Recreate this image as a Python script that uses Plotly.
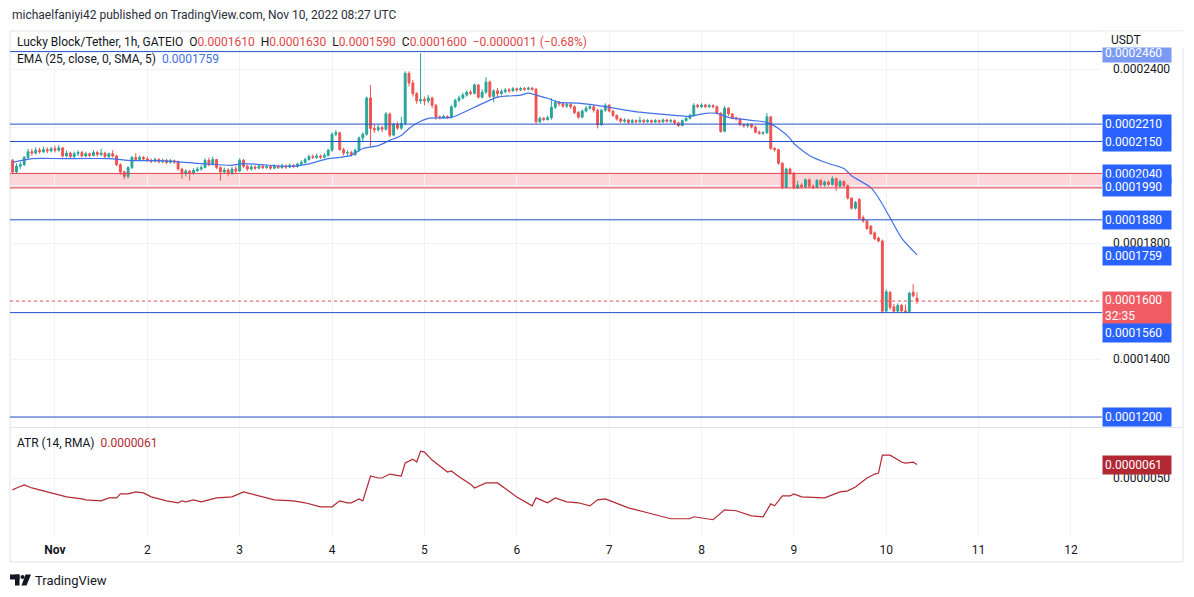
import plotly.graph_objects as go
import pandas as pd

# ---------------- DATA (prices in units of 1e-7 USDT) ----------------
# hourly candles, first candle = 2022-10-31 13:00
opens = [
    # Oct 31
    2085, 2045, 2065, 2070, 2095, 2115, 2110, 2120, 2115, 2122, 2118,
    # Nov 1
    2125, 2120, 2128, 2100, 2110, 2098, 2108, 2112, 2100, 2108, 2102, 2112, 2105, 2110, 2098, 2108, 2100, 2070, 2045, 2030, 2060, 2095, 2088, 2095,
    # Nov 2
    2090, 2085, 2082, 2088, 2080, 2085, 2078, 2084, 2080, 2055, 2040, 2048, 2042, 2050, 2055, 2060, 2085, 2070, 2088, 2060, 2045, 2052, 2040, 2055,
    # Nov 3
    2048, 2085, 2065, 2055, 2062, 2058, 2065, 2060, 2064, 2058, 2065, 2060, 2066, 2062, 2068, 2064, 2072, 2078, 2088, 2098, 2095, 2100, 2096, 2102,
    # Nov 4
    2120, 2175, 2180, 2122, 2110, 2112, 2105, 2120, 2162, 2175, 2300, 2195, 2190, 2198, 2192, 2245, 2172, 2210, 2196, 2212, 2385, 2352, 2315, 2290,
    # Nov 5
    2295, 2290, 2300, 2275, 2235, 2232, 2236, 2234, 2270, 2292, 2300, 2310, 2320, 2316, 2345, 2303, 2320, 2355, 2305, 2325, 2315, 2322, 2328, 2325,
    # Nov 6
    2332, 2328, 2333, 2330, 2334, 2330, 2218, 2230, 2226, 2232, 2268, 2285, 2280, 2272, 2278, 2270, 2250, 2234, 2255, 2265, 2270, 2258, 2208, 2258,
    # Nov 7
    2275, 2255, 2240, 2228, 2220, 2224, 2216, 2222, 2218, 2223, 2218, 2222, 2217, 2222, 2218, 2224, 2220, 2222, 2214, 2205, 2222, 2230, 2240, 2275,
    # Nov 8
    2270, 2276, 2270, 2274, 2270, 2248, 2185, 2265, 2245, 2232, 2228, 2208, 2204, 2208, 2200, 2182, 2178, 2180, 2235, 2126, 2122, 2075, 1992, 2055,
    # Nov 9
    2040, 1990, 2000, 1994, 2018, 1996, 1992, 2016, 2000, 2010, 2002, 2022, 1996, 2012, 1998, 1955, 1920, 1950, 1888, 1876, 1858, 1835, 1817, 1807,
    # Nov 10
    1565, 1630, 1580, 1565, 1585, 1566, 1564, 1630, 1610,
]
highs = [
    2090, 2075, 2080, 2100, 2125, 2125, 2130, 2128, 2132, 2130, 2132,
    2135, 2138, 2130, 2118, 2115, 2115, 2120, 2118, 2115, 2112, 2120, 2118, 2125, 2115, 2112, 2120, 2105, 2075, 2050, 2065, 2100, 2110, 2102, 2100,
    2098, 2092, 2095, 2093, 2092, 2090, 2090, 2088, 2085, 2060, 2055, 2052, 2058, 2062, 2068, 2092, 2095, 2098, 2090, 2065, 2060, 2058, 2062, 2065,
    2092, 2090, 2070, 2070, 2068, 2072, 2070, 2070, 2068, 2072, 2070, 2074, 2070, 2075, 2072, 2078, 2085, 2094, 2105, 2105, 2108, 2105, 2110, 2125,
    2182, 2190, 2184, 2128, 2120, 2118, 2126, 2168, 2182, 2305, 2345, 2210, 2208, 2205, 2252, 2250, 2215, 2218, 2235, 2392, 2392, 2362, 2320, 2455,
    2305, 2310, 2305, 2280, 2240, 2242, 2240, 2275, 2298, 2308, 2318, 2326, 2328, 2350, 2348, 2330, 2372, 2360, 2330, 2335, 2330, 2334, 2335, 2338,
    2336, 2338, 2338, 2340, 2338, 2335, 2236, 2234, 2238, 2300, 2292, 2290, 2286, 2284, 2282, 2275, 2255, 2260, 2272, 2276, 2275, 2262, 2262, 2282,
    2280, 2258, 2244, 2232, 2230, 2228, 2228, 2226, 2236, 2228, 2228, 2226, 2228, 2226, 2230, 2228, 2228, 2226, 2218, 2226, 2236, 2246, 2282, 2280,
    2282, 2280, 2280, 2278, 2274, 2250, 2272, 2268, 2248, 2236, 2232, 2212, 2214, 2212, 2205, 2188, 2186, 2248, 2238, 2130, 2125, 2078, 2060, 2060,
    2045, 2015, 2006, 2022, 2022, 2002, 2020, 2020, 2016, 2016, 2030, 2025, 2018, 2016, 2002, 1958, 1945, 1955, 1895, 1880, 1862, 1840, 1822, 1812,
    1640, 1635, 1590, 1592, 1590, 1588, 1632, 1658, 1630,
]
lows = [
    2040, 2040, 2055, 2065, 2090, 2100, 2105, 2108, 2110, 2110, 2112,
    2112, 2115, 2095, 2095, 2092, 2092, 2100, 2095, 2095, 2095, 2098, 2098, 2100, 2090, 2092, 2095, 2065, 2035, 2020, 2022, 2055, 2082, 2082, 2084,
    2080, 2075, 2078, 2075, 2076, 2072, 2074, 2072, 2050, 2022, 2030, 2015, 2035, 2045, 2050, 2058, 2065, 2068, 2055, 2015, 2038, 2030, 2035, 2040,
    2045, 2058, 2048, 2050, 2052, 2055, 2054, 2056, 2052, 2054, 2055, 2056, 2056, 2058, 2058, 2060, 2068, 2074, 2084, 2090, 2090, 2090, 2092, 2098,
    2115, 2168, 2118, 2102, 2100, 2098, 2100, 2115, 2150, 2170, 2130, 2180, 2185, 2182, 2188, 2165, 2168, 2190, 2190, 2205, 2340, 2305, 2280, 2280,
    2275, 2282, 2265, 2225, 2226, 2228, 2228, 2230, 2265, 2285, 2295, 2305, 2310, 2312, 2298, 2298, 2315, 2300, 2285, 2300, 2308, 2316, 2318, 2320,
    2322, 2324, 2325, 2326, 2325, 2212, 2214, 2220, 2222, 2225, 2262, 2272, 2266, 2265, 2262, 2245, 2228, 2230, 2250, 2260, 2250, 2195, 2204, 2252,
    2250, 2235, 2222, 2214, 2214, 2210, 2212, 2212, 2214, 2212, 2214, 2212, 2214, 2212, 2214, 2215, 2214, 2208, 2200, 2202, 2218, 2226, 2236, 2264,
    2265, 2265, 2266, 2264, 2244, 2180, 2182, 2238, 2226, 2222, 2204, 2198, 2198, 2195, 2178, 2174, 2172, 2176, 2122, 2115, 2070, 1985, 1988, 2035,
    1986, 1986, 1988, 1990, 1990, 1986, 1990, 1994, 1994, 1996, 1998, 1980, 1992, 1992, 1950, 1915, 1915, 1880, 1870, 1845, 1828, 1810, 1803, 1557,
    1560, 1570, 1558, 1558, 1560, 1558, 1558, 1612, 1590,
]
closes = [
    2045, 2065, 2070, 2095, 2115, 2110, 2120, 2115, 2122, 2118, 2125,
    2120, 2128, 2100, 2110, 2098, 2108, 2112, 2100, 2108, 2102, 2112, 2105, 2110, 2098, 2108, 2100, 2070, 2045, 2030, 2060, 2095, 2088, 2095, 2090,
    2085, 2082, 2088, 2080, 2085, 2078, 2084, 2080, 2055, 2040, 2048, 2042, 2050, 2055, 2060, 2085, 2070, 2088, 2060, 2045, 2052, 2040, 2055, 2048,
    2085, 2065, 2055, 2062, 2058, 2065, 2060, 2064, 2058, 2065, 2060, 2066, 2062, 2068, 2064, 2072, 2078, 2088, 2098, 2095, 2100, 2096, 2102, 2120,
    2175, 2180, 2122, 2110, 2112, 2105, 2120, 2162, 2175, 2300, 2195, 2190, 2198, 2192, 2245, 2172, 2210, 2196, 2212, 2385, 2352, 2315, 2290, 2295,
    2290, 2300, 2275, 2235, 2232, 2236, 2234, 2270, 2292, 2300, 2310, 2320, 2316, 2345, 2303, 2320, 2355, 2305, 2325, 2315, 2322, 2328, 2325, 2332,
    2328, 2333, 2330, 2334, 2330, 2218, 2230, 2226, 2232, 2268, 2285, 2280, 2272, 2278, 2270, 2250, 2234, 2255, 2265, 2270, 2258, 2208, 2258, 2275,
    2255, 2240, 2228, 2220, 2224, 2216, 2222, 2218, 2223, 2218, 2222, 2217, 2222, 2218, 2224, 2220, 2222, 2214, 2205, 2222, 2230, 2240, 2275, 2270,
    2276, 2270, 2274, 2270, 2248, 2185, 2265, 2245, 2232, 2228, 2208, 2204, 2208, 2200, 2182, 2178, 2180, 2235, 2126, 2122, 2075, 1992, 2055, 2040,
    1990, 2000, 1994, 2018, 1996, 1992, 2016, 2000, 2010, 2002, 2022, 1996, 2012, 1998, 1955, 1920, 1940, 1885, 1876, 1850, 1832, 1815, 1807, 1565,
    1632, 1578, 1565, 1585, 1566, 1564, 1627, 1618, 1600,
]

# EMA(25, SMA 5): hours since first candle -> value (1e-7)
ema_hours = [0, 5, 13, 25, 31, 38, 49, 57, 60, 72, 76, 82, 85, 88, 91, 95, 98, 101, 103, 105,
             108, 114, 120, 126, 132, 134, 136, 139, 142, 147, 153, 163, 172, 176, 180, 183, 186,
             192, 196, 199, 202, 203, 207, 212, 216, 218, 223, 225, 228, 231, 235]
ema_vals = [2078, 2091, 2091, 2091, 2084, 2084, 2074, 2068, 2074, 2064, 2070, 2091, 2095, 2102, 2126,
            2136, 2154, 2171, 2195, 2213, 2230, 2233, 2268, 2303, 2310, 2317, 2310, 2299, 2285, 2282,
            2272, 2251, 2240, 2237, 2247, 2247, 2233, 2223, 2216, 2195, 2161, 2143, 2102, 2074, 2057,
            2032, 1991, 1956, 1887, 1817, 1759]

# ATR(14, RMA): hours since first candle -> value (1e-7)
atr_hours = [0, 1, 3, 5, 10, 14, 18, 19, 23, 25, 27, 28, 30, 32, 34, 36, 40, 43, 44, 45, 47, 49, 53,
             57, 60, 62, 68, 73, 76, 80, 83, 85, 87, 88, 90, 91, 93, 95, 96, 98, 101, 102, 104, 105,
             106, 107, 109, 113, 114, 116, 119, 120, 123, 126, 131, 135, 136, 139, 141, 144, 147, 150,
             152, 154, 160, 165, 171, 176, 177, 182, 185, 188, 192, 195, 197, 198, 200, 202, 203, 205,
             211, 215, 217, 219, 222, 224, 225, 226, 228, 231, 232, 234, 235]
atr_vals = [40.3, 41.9, 44.3, 41.9, 37.9, 34.6, 33.0, 32.2, 31.4, 33.8, 33.8, 37.0, 37.0, 38.7, 37.9,
            34.6, 31.4, 29.8, 31.4, 30.6, 32.2, 30.6, 33.8, 34.6, 38.7, 37.0, 32.2, 31.4, 29.8, 26.5,
            26.5, 31.4, 29.8, 29.8, 33.0, 31.4, 51.6, 50.0, 50.0, 53.2, 51.6, 62.2, 65.4, 63.0, 71.9,
            71.1, 64.6, 54.9, 55.7, 51.0, 45.0, 41.9, 46.0, 46.0, 34.6, 27.3, 33.8, 29.8, 33.8, 30.6,
            29.8, 27.3, 32.2, 33.0, 25.7, 21.7, 16.8, 16.8, 18.4, 16.0, 24.1, 23.3, 19.2, 18.4, 28.9,
            27.3, 35.4, 35.4, 37.0, 34.6, 33.8, 38.7, 39.5, 42.7, 50.0, 53.2, 54.0, 68.6, 68.6, 63.0,
            62.2, 63.0, 61.0]

# horizontal levels drawn on the chart (1e-7)
blue_levels = [2460, 2210, 2150, 1880, 1560, 1200]
zone_low, zone_high = 1990, 2040
last_price = 1600
ema_last = 1759
atr_last = 61
day_labels = ["Nov", "2", "3", "4", "5", "6", "7", "8", "9", "10", "11", "12"]
price_grid = [1200, 1400, 1600, 1800, 2000, 2200, 2400]
price_ticks = [1400, 1800, 2400]          # labels not hidden behind level boxes
atr_ticks = [50]

SCALE = 1e-7
start = pd.Timestamp("2022-10-31 13:00")
times = pd.date_range(start, periods=len(closes), freq="h")
ema_t = [start + pd.Timedelta(hours=h) for h in ema_hours]
atr_t = [start + pd.Timedelta(hours=h) for h in atr_hours]
day_t = pd.date_range("2022-11-01", periods=len(day_labels), freq="D")

s = lambda arr: [v * SCALE for v in arr]

# ---------------- LAYOUT GEOMETRY (pixels) ----------------
W, H = 1194, 597
PL, PR, PT, PB = 10, 1100, 32, 537


def fx(px):
    return (px - PL) / (PR - PL)


def fy(py):
    return (PB - py) / (PB - PT)


FONT = "Roboto, 'Noto Sans', sans-serif"
TXT = "#131722"
GREEN, RED = "#26a69a", "#ef5350"
LINE_BLUE = "#2250c8"
BOX_BLUE = "#2962ff"
EMA_BLUE = "#4170e8"
ATR_RED = "#b22833"

fig = go.Figure()

fig.add_trace(go.Candlestick(
    x=times, open=s(opens), high=s(highs), low=s(lows), close=s(closes),
    increasing=dict(line=dict(color=GREEN, width=1), fillcolor=GREEN),
    decreasing=dict(line=dict(color=RED, width=1), fillcolor=RED),
    whiskerwidth=0, showlegend=False, hoverinfo="skip",
    xaxis="x", yaxis="y",
))
fig.add_trace(go.Scatter(
    x=ema_t, y=s(ema_vals), mode="lines",
    line=dict(color=EMA_BLUE, width=1.2, shape="spline", smoothing=0.6),
    showlegend=False, hoverinfo="skip", xaxis="x", yaxis="y",
))
fig.add_trace(go.Scatter(
    x=atr_t, y=s(atr_vals), mode="lines",
    line=dict(color=ATR_RED, width=1.2),
    showlegend=False, hoverinfo="skip", xaxis="x2", yaxis="y2",
))

x_range = [pd.Timestamp("2022-10-31 12:19"), pd.Timestamp("2022-11-12 07:33")]
price_top = 2400 + (69 - PT) * 3.448
price_bot = 2400 - (427 - 69) * 3.448
atr_top = 50 + (478 - 429) * 0.815
atr_bot = 50 - (PB - 478) * 0.815

grid = "#f0f3fa"
fig.update_layout(
    width=W, height=H,
    margin=dict(l=PL, r=W - PR, t=PT, b=H - PB),
    paper_bgcolor="white", plot_bgcolor="white",
    font=dict(family=FONT, size=12, color=TXT),
    showlegend=False,
    xaxis=dict(domain=[0, 1], anchor="y", range=x_range, tickvals=day_t, showticklabels=False,
               showgrid=True, gridcolor=grid, zeroline=False, showline=False,
               rangeslider=dict(visible=False)),
    xaxis2=dict(domain=[0, 1], anchor="y2", matches="x", range=x_range, tickvals=day_t,
                ticktext=["<b>Nov</b>"] + day_labels[1:], showgrid=True, gridcolor=grid,
                zeroline=False, showline=False, ticks="", ticklabelstandoff=4,
                tickfont=dict(size=12, color=TXT), rangeslider=dict(visible=False)),
    yaxis=dict(domain=[fy(427), 1], anchor="x", side="right",
               range=[price_bot * SCALE, price_top * SCALE],
               tickvals=s(price_ticks), tickformat=".7f", showgrid=True, gridcolor=grid,
               minor=dict(tickvals=s(price_grid), showgrid=True, gridcolor=grid, ticks=""),
               zeroline=False, showline=False, ticks="", ticklabelstandoff=12,
               tickfont=dict(size=12, color=TXT)),
    yaxis2=dict(domain=[0, fy(429)], anchor="x2", side="right",
                range=[atr_bot * SCALE, atr_top * SCALE],
                tickvals=s(atr_ticks), tickformat=".7f", showgrid=True, gridcolor=grid,
                zeroline=False, showline=False, ticks="", ticklabelstandoff=12,
                tickfont=dict(size=12, color=TXT)),
)

shapes = []
frame = "#e0e3eb"
# outer frame and pane separator
shapes.append(dict(type="rect", xref="paper", yref="paper", x0=fx(10), x1=fx(1183),
                   y0=fy(562), y1=fy(31), line=dict(color=frame, width=1), layer="below"))
shapes.append(dict(type="line", xref="paper", yref="paper", x0=fx(10), x1=fx(1183),
                   y0=fy(427.5), y1=fy(427.5), line=dict(color=frame, width=1)))
# support/resistance zone
shapes.append(dict(type="rect", xref="paper", yref="y", x0=0, x1=fx(1102),
                   y0=zone_low * SCALE, y1=zone_high * SCALE,
                   fillcolor="rgba(242,54,69,0.20)", line=dict(width=0), layer="below"))
for lv in (zone_low, zone_high):
    shapes.append(dict(type="line", xref="paper", yref="y", x0=0, x1=fx(1102),
                       y0=lv * SCALE, y1=lv * SCALE, line=dict(color="#e0414d", width=1)))
for lv in blue_levels:
    shapes.append(dict(type="line", xref="paper", yref="y", x0=0, x1=fx(1102),
                       y0=lv * SCALE, y1=lv * SCALE, line=dict(color=LINE_BLUE, width=1)))
shapes.append(dict(type="line", xref="paper", yref="y", x0=0, x1=fx(1102),
                   y0=last_price * SCALE, y1=last_price * SCALE,
                   line=dict(color=RED, width=1, dash="dot")))
# TradingView logo glyph
logo = "#131722"
shapes.append(dict(type="rect", xref="paper", yref="paper", x0=fx(10), x1=fx(19.5),
                   y0=fy(579.5), y1=fy(574.5), fillcolor=logo, line=dict(width=0)))
shapes.append(dict(type="rect", xref="paper", yref="paper", x0=fx(15), x1=fx(19.5),
                   y0=fy(585.5), y1=fy(574.5), fillcolor=logo, line=dict(width=0)))
shapes.append(dict(type="circle", xref="paper", yref="paper", x0=fx(20.5), x1=fx(24.5),
                   y0=fy(579), y1=fy(575), fillcolor=logo, line=dict(width=0)))
shapes.append(dict(type="path", xref="paper", yref="paper",
                   path=f"M {fx(25.5)} {fy(574.5)} L {fx(31)} {fy(574.5)} L {fx(26.5)} {fy(585.5)} "
                        f"L {fx(21.5)} {fy(585.5)} Z",
                   fillcolor=logo, line=dict(width=0)))
fig.update_layout(shapes=shapes)

ann = []
# header texts
ann.append(dict(xref="paper", yref="paper", x=fx(10), y=fy(15), xanchor="left", yanchor="middle",
                text="michaelfaniyi42 published on TradingView.com, Nov 10, 2022 08:27 UTC",
                showarrow=False, font=dict(size=12, color="#2a2e39")))
rv = "#e04848"
legend1 = ("Lucky Block/Tether, 1h, GATEIO  "
           f"O<span style='color:{rv}'>0.0001610</span>  H<span style='color:{rv}'>0.0001630</span>  "
           f"L<span style='color:{rv}'>0.0001590</span>  C<span style='color:{rv}'>0.0001600</span>  "
           f"<span style='color:{rv}'>−0.0000011 (−0.68%)</span>")
ann.append(dict(xref="paper", yref="paper", x=fx(15), y=fy(42), xanchor="left", yanchor="middle",
                text=legend1, showarrow=False, font=dict(size=12, color=TXT)))
ann.append(dict(xref="paper", yref="paper", x=fx(15), y=fy(59), xanchor="left", yanchor="middle",
                text=f"EMA (25, close, 0, SMA, 5)  <span style='color:{EMA_BLUE}'>0.0001759</span>",
                showarrow=False, font=dict(size=12, color=TXT)))
ann.append(dict(xref="paper", yref="paper", x=fx(15), y=fy(443), xanchor="left", yanchor="middle",
                text=f"ATR (14, RMA)  <span style='color:{ATR_RED}'>0.0000061</span>",
                showarrow=False, font=dict(size=12, color=TXT)))


def box(val, text, color, yref="y", yshift=0, height=14, fcolor="white"):
    return dict(xref="paper", yref=yref, x=fx(1102), y=val * SCALE, xanchor="left",
                yanchor="middle", text=text, showarrow=False, align="left",
                bgcolor=color, width=64, height=height, borderpad=2, yshift=yshift,
                font=dict(size=12, color=fcolor))


ann.append(box(2460, "0.0002460", "#7b9af4", yshift=-1))
ann.append(dict(xref="paper", yref="paper", x=fx(1100), y=fy(39.5), xanchor="left", yanchor="middle",
                text="   USDT", showarrow=False, align="left", bgcolor="white", width=82, height=13,
                font=dict(size=12, color=TXT)))
ann.append(box(2210, "0.0002210", BOX_BLUE))
ann.append(box(2150, "0.0002150", BOX_BLUE))
ann.append(box(2040, "0.0002040", BOX_BLUE, yshift=-1))
ann.append(box(1990, "0.0001990", BOX_BLUE, yshift=1))
ann.append(box(1880, "0.0001880", BOX_BLUE))
ann.append(box(ema_last, "0.0001759", BOX_BLUE, yshift=-1))
ann.append(box(last_price, "0.0001600<br>32:35", "#f05c64", yshift=-7, height=28))
ann.append(box(1560, "0.0001560", BOX_BLUE, yshift=-20))
ann.append(box(1200, "0.0001200", BOX_BLUE))
ann.append(box(atr_last, "0.0000061", ATR_RED, yref="y2"))
# footer wordmark
ann.append(dict(xref="paper", yref="paper", x=fx(33), y=fy(580), xanchor="left", yanchor="middle",
                text="TradingView", showarrow=False, font=dict(size=13, color=TXT)))
fig.update_layout(annotations=ann)

fig.write_html("out.html", config={"displayModeBar": False},
               post_script="document.body.style.margin='0';")
